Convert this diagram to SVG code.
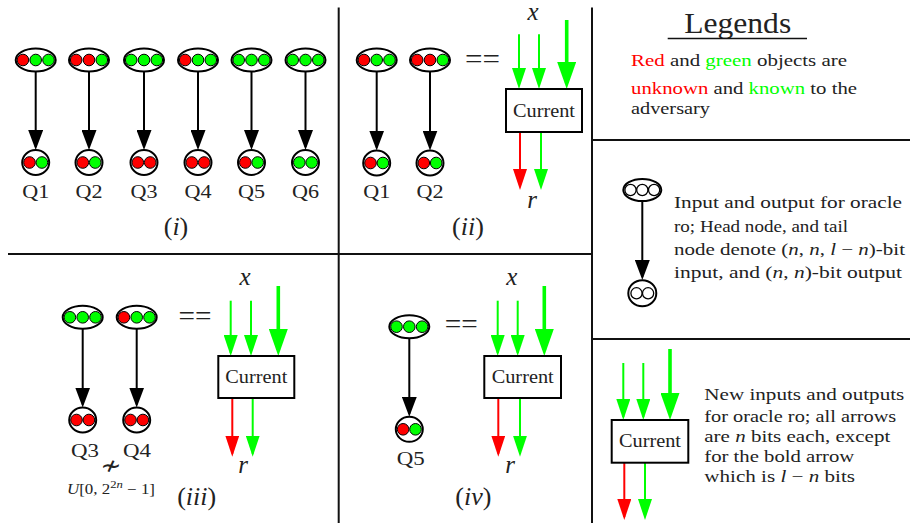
<svg xmlns="http://www.w3.org/2000/svg" width="910" height="523" viewBox="0 0 910 523" font-family="Liberation Serif, serif">
<defs>
<style>
.bg{fill:#fff}
.div{stroke:#111;stroke-width:2;fill:none}
.nd{fill:#fff;stroke:#000;stroke-width:2}
.r{fill:#ff0000;stroke:#000;stroke-width:1}
.g{fill:#00ff00;stroke:#000;stroke-width:1}
.w{fill:#fff;stroke:#000;stroke-width:1.3}
.ka{stroke:#000;stroke-width:2;fill:none;marker-end:url(#ah-k)}
.ga{stroke:#00ff00;stroke-width:2;fill:none;marker-end:url(#ah-g)}
.gb{stroke:#00ff00;stroke-width:3.6;fill:none;marker-end:url(#ah-gb)}
.ra{stroke:#ff0000;stroke-width:2;fill:none;marker-end:url(#ah-r)}
.box{fill:#fff;stroke:#000;stroke-width:2}
text{font-family:"Liberation Serif",serif;fill:#222}
.q{font-size:18px;text-anchor:middle}
.cur{font-size:18.5px;text-anchor:middle}
.lab{font-size:26px;text-anchor:middle}
.mi{font-style:italic}
.var{font-size:25px;font-style:italic;text-anchor:middle}
.eq{font-size:28px;text-anchor:middle}
.leg{font-size:17px}
.tr{fill:#ff0000}
.tg{fill:#00ff00}
</style>
<marker id="ah-k" markerUnits="userSpaceOnUse" markerWidth="20" markerHeight="15" viewBox="0 0 20 15" refX="17" refY="7.5" orient="auto"><path d="M0,0 L20,7.5 L0,15 z" fill="#000"/></marker>
<marker id="ah-g" markerUnits="userSpaceOnUse" markerWidth="21" markerHeight="14" viewBox="0 0 21 14" refX="18" refY="7" orient="auto"><path d="M0,0 L21,7 L0,14 z" fill="#00ff00"/></marker>
<marker id="ah-r" markerUnits="userSpaceOnUse" markerWidth="21" markerHeight="14" viewBox="0 0 21 14" refX="18" refY="7" orient="auto"><path d="M0,0 L21,7 L0,14 z" fill="#ff0000"/></marker>
<marker id="ah-gb" markerUnits="userSpaceOnUse" markerWidth="27" markerHeight="19" viewBox="0 0 27 19" refX="21" refY="9.5" orient="auto"><path d="M0,0 L27,9.5 L0,19 z" fill="#00ff00"/></marker>
</defs>
<rect class="bg" x="0" y="0" width="910" height="523"/>

<g id="dividers">
<line class="div" x1="338.7" y1="7.5" x2="338.7" y2="523"/>
<line class="div" x1="8" y1="254" x2="592" y2="254"/>
<line class="div" x1="592" y1="7.5" x2="592" y2="523"/>
<line class="div" x1="592" y1="140" x2="910" y2="140"/>
<line class="div" x1="592" y1="339" x2="910" y2="339"/>
</g>

<g id="connectors">
<line class="ka" x1="35.7" y1="71.5" x2="35.7" y2="147"/>
<line class="ka" x1="89" y1="71.5" x2="89" y2="147"/>
<line class="ka" x1="144" y1="71.5" x2="144" y2="147"/>
<line class="ka" x1="198" y1="71.5" x2="198" y2="147"/>
<line class="ka" x1="251.5" y1="71.5" x2="251.5" y2="147"/>
<line class="ka" x1="305.5" y1="71.5" x2="305.5" y2="147"/>
<line class="ka" x1="376.7" y1="71.5" x2="376.7" y2="147.5"/>
<line class="ka" x1="430" y1="71.5" x2="430" y2="147.5"/>
<line class="ga" x1="519" y1="34.3" x2="519" y2="86"/>
<line class="ga" x1="539" y1="34.3" x2="539" y2="86"/>
<line class="gb" x1="566.7" y1="20" x2="566.7" y2="83"/>
<line class="ra" x1="520" y1="132" x2="520" y2="187"/>
<line class="ga" x1="541" y1="132" x2="541" y2="187"/>
<line class="ka" x1="82.7" y1="328.8" x2="82.7" y2="404.5"/>
<line class="ka" x1="136.7" y1="328.8" x2="136.7" y2="404.5"/>
<line class="ga" x1="230.7" y1="300.7" x2="230.7" y2="353"/>
<line class="ga" x1="251" y1="300.7" x2="251" y2="353"/>
<line class="gb" x1="278.3" y1="286" x2="278.3" y2="350"/>
<line class="ra" x1="232.3" y1="398" x2="232.3" y2="453.7"/>
<line class="ga" x1="252.7" y1="398" x2="252.7" y2="453.7"/>
<line class="ka" x1="409.3" y1="338.2" x2="409.3" y2="413.8"/>
<line class="ga" x1="497.7" y1="300.7" x2="497.7" y2="353"/>
<line class="ga" x1="517.7" y1="300.7" x2="517.7" y2="353"/>
<line class="gb" x1="544.3" y1="286" x2="544.3" y2="350"/>
<line class="ra" x1="498.3" y1="398" x2="498.3" y2="453.7"/>
<line class="ga" x1="520" y1="398" x2="520" y2="453.7"/>
<line class="ka" x1="642.3" y1="201" x2="642.3" y2="277"/>
<line class="ga" x1="623.3" y1="363" x2="623.3" y2="417"/>
<line class="ga" x1="643.3" y1="363" x2="643.3" y2="417"/>
<line class="gb" x1="670" y1="349" x2="670" y2="414"/>
<line class="ra" x1="624.3" y1="463" x2="624.3" y2="517"/>
<line class="ga" x1="645" y1="463" x2="645" y2="517"/>
</g>

<g id="i-q1-head"><ellipse class="nd" cx="35.7" cy="60" rx="20" ry="11.5"/><circle class="r" cx="22.9" cy="60" r="5.8"/><circle class="g" cx="35.7" cy="60" r="5.8"/><circle class="g" cx="48.5" cy="60" r="5.8"/></g>
<g id="i-q1-tail"><ellipse class="nd" cx="35.7" cy="162.5" rx="13.5" ry="12.5"/><circle class="r" cx="29.5" cy="162.5" r="5.8"/><circle class="g" cx="41.9" cy="162.5" r="5.8"/></g>
<g id="i-q2-head"><ellipse class="nd" cx="89" cy="60" rx="20" ry="11.5"/><circle class="r" cx="76.2" cy="60" r="5.8"/><circle class="r" cx="89" cy="60" r="5.8"/><circle class="g" cx="101.8" cy="60" r="5.8"/></g>
<g id="i-q2-tail"><ellipse class="nd" cx="89" cy="162.5" rx="13.5" ry="12.5"/><circle class="r" cx="82.8" cy="162.5" r="5.8"/><circle class="g" cx="95.2" cy="162.5" r="5.8"/></g>
<g id="i-q3-head"><ellipse class="nd" cx="144" cy="60" rx="20" ry="11.5"/><circle class="g" cx="131.2" cy="60" r="5.8"/><circle class="g" cx="144" cy="60" r="5.8"/><circle class="g" cx="156.8" cy="60" r="5.8"/></g>
<g id="i-q3-tail"><ellipse class="nd" cx="144" cy="162.5" rx="13.5" ry="12.5"/><circle class="r" cx="137.8" cy="162.5" r="5.8"/><circle class="r" cx="150.2" cy="162.5" r="5.8"/></g>
<g id="i-q4-head"><ellipse class="nd" cx="198" cy="60" rx="20" ry="11.5"/><circle class="r" cx="185.2" cy="60" r="5.8"/><circle class="g" cx="198" cy="60" r="5.8"/><circle class="g" cx="210.8" cy="60" r="5.8"/></g>
<g id="i-q4-tail"><ellipse class="nd" cx="198" cy="162.5" rx="13.5" ry="12.5"/><circle class="r" cx="191.8" cy="162.5" r="5.8"/><circle class="r" cx="204.2" cy="162.5" r="5.8"/></g>
<g id="i-q5-head"><ellipse class="nd" cx="251.5" cy="60" rx="20" ry="11.5"/><circle class="g" cx="238.7" cy="60" r="5.8"/><circle class="g" cx="251.5" cy="60" r="5.8"/><circle class="g" cx="264.3" cy="60" r="5.8"/></g>
<g id="i-q5-tail"><ellipse class="nd" cx="251.5" cy="162.5" rx="13.5" ry="12.5"/><circle class="r" cx="245.3" cy="162.5" r="5.8"/><circle class="g" cx="257.7" cy="162.5" r="5.8"/></g>
<g id="i-q6-head"><ellipse class="nd" cx="305.5" cy="60" rx="20" ry="11.5"/><circle class="g" cx="292.7" cy="60" r="5.8"/><circle class="g" cx="305.5" cy="60" r="5.8"/><circle class="g" cx="318.3" cy="60" r="5.8"/></g>
<g id="i-q6-tail"><ellipse class="nd" cx="305.5" cy="162.5" rx="13.5" ry="12.5"/><circle class="g" cx="299.3" cy="162.5" r="5.8"/><circle class="g" cx="311.7" cy="162.5" r="5.8"/></g>
<g id="i-labels">
<text class="q" x="35.7" y="198" textLength="27" lengthAdjust="spacingAndGlyphs">Q1</text>
<text class="q" x="89" y="198" textLength="27" lengthAdjust="spacingAndGlyphs">Q2</text>
<text class="q" x="144" y="198" textLength="27" lengthAdjust="spacingAndGlyphs">Q3</text>
<text class="q" x="198" y="198" textLength="27" lengthAdjust="spacingAndGlyphs">Q4</text>
<text class="q" x="251.5" y="198" textLength="27" lengthAdjust="spacingAndGlyphs">Q5</text>
<text class="q" x="305.5" y="198" textLength="27" lengthAdjust="spacingAndGlyphs">Q6</text>
<text class="lab" x="176" y="235">(<tspan class="mi">i</tspan>)</text>
</g>

<g id="ii-q1-head"><ellipse class="nd" cx="376.7" cy="60" rx="20" ry="11.5"/><circle class="r" cx="363.9" cy="60" r="5.8"/><circle class="g" cx="376.7" cy="60" r="5.8"/><circle class="g" cx="389.5" cy="60" r="5.8"/></g>
<g id="ii-q1-tail"><ellipse class="nd" cx="376.7" cy="163" rx="13.5" ry="12.5"/><circle class="r" cx="370.5" cy="163" r="5.8"/><circle class="g" cx="382.9" cy="163" r="5.8"/></g>
<g id="ii-q2-head"><ellipse class="nd" cx="430" cy="60" rx="20" ry="11.5"/><circle class="r" cx="417.2" cy="60" r="5.8"/><circle class="r" cx="430" cy="60" r="5.8"/><circle class="g" cx="442.8" cy="60" r="5.8"/></g>
<g id="ii-q2-tail"><ellipse class="nd" cx="430" cy="163" rx="13.5" ry="12.5"/><circle class="r" cx="423.8" cy="163" r="5.8"/><circle class="g" cx="436.2" cy="163" r="5.8"/></g>
<g id="ii-current"><rect class="box" x="506" y="89" width="76" height="43"/><text class="cur" x="544" y="116.5" textLength="62" lengthAdjust="spacingAndGlyphs">Current</text></g>
<g id="ii-labels">
<text class="q" x="376.7" y="198" textLength="27" lengthAdjust="spacingAndGlyphs">Q1</text>
<text class="q" x="430" y="198" textLength="27" lengthAdjust="spacingAndGlyphs">Q2</text>
<text class="eq" x="482.5" y="68" textLength="35" lengthAdjust="spacingAndGlyphs">==</text>
<text class="var" x="533" y="20">x</text>
<text class="var" x="532" y="208">r</text>
<text class="lab" x="468" y="235">(<tspan class="mi">ii</tspan>)</text>
</g>

<g id="iii-q3-head"><ellipse class="nd" cx="82.7" cy="317.3" rx="20" ry="11.5"/><circle class="g" cx="69.9" cy="317.3" r="5.8"/><circle class="g" cx="82.7" cy="317.3" r="5.8"/><circle class="g" cx="95.5" cy="317.3" r="5.8"/></g>
<g id="iii-q3-tail"><ellipse class="nd" cx="82.7" cy="420" rx="13.5" ry="12.5"/><circle class="r" cx="76.5" cy="420" r="5.8"/><circle class="r" cx="88.9" cy="420" r="5.8"/></g>
<g id="iii-q4-head"><ellipse class="nd" cx="136.7" cy="317.3" rx="20" ry="11.5"/><circle class="r" cx="123.9" cy="317.3" r="5.8"/><circle class="g" cx="136.7" cy="317.3" r="5.8"/><circle class="g" cx="149.5" cy="317.3" r="5.8"/></g>
<g id="iii-q4-tail"><ellipse class="nd" cx="136.7" cy="420" rx="13.5" ry="12.5"/><circle class="r" cx="130.5" cy="420" r="5.8"/><circle class="r" cx="142.9" cy="420" r="5.8"/></g>
<g id="iii-current"><rect class="box" x="218.3" y="356" width="76" height="42"/><text class="cur" x="256.3" y="383.3" textLength="62" lengthAdjust="spacingAndGlyphs">Current</text></g>
<g id="iii-labels">
<text class="q" x="85" y="456.5" textLength="28" lengthAdjust="spacingAndGlyphs">Q3</text>
<text class="q" x="137" y="456.5" textLength="28" lengthAdjust="spacingAndGlyphs">Q4</text>
<text x="111" y="474" style="font-family:'DejaVu Sans',sans-serif;font-size:25px;text-anchor:middle">≁</text>
<text x="111" y="494" style="font-size:14px;text-anchor:middle" textLength="88" lengthAdjust="spacingAndGlyphs"><tspan class="mi">U</tspan>[0, 2<tspan dy="-6" style="font-size:10.5px">2<tspan class="mi">n</tspan></tspan><tspan dy="6"> − 1]</tspan></text>
<text class="eq" x="195" y="325" textLength="33" lengthAdjust="spacingAndGlyphs">==</text>
<text class="var" x="245" y="285">x</text>
<text class="var" x="243" y="473">r</text>
<text class="lab" x="196.7" y="505">(<tspan class="mi">iii</tspan>)</text>
</g>

<g id="iv-q5-head"><ellipse class="nd" cx="409.3" cy="326.7" rx="20" ry="11.5"/><circle class="g" cx="396.5" cy="326.7" r="5.8"/><circle class="g" cx="409.3" cy="326.7" r="5.8"/><circle class="g" cx="422.1" cy="326.7" r="5.8"/></g>
<g id="iv-q5-tail"><ellipse class="nd" cx="409.3" cy="429.3" rx="13.5" ry="12.5"/><circle class="r" cx="403.1" cy="429.3" r="5.8"/><circle class="g" cx="415.5" cy="429.3" r="5.8"/></g>
<g id="iv-current"><rect class="box" x="484.3" y="356" width="76.7" height="42"/><text class="cur" x="522.7" y="383.3" textLength="62" lengthAdjust="spacingAndGlyphs">Current</text></g>
<g id="iv-labels">
<text class="q" x="410.7" y="465" textLength="28" lengthAdjust="spacingAndGlyphs">Q5</text>
<text class="eq" x="461.3" y="333" textLength="33" lengthAdjust="spacingAndGlyphs">==</text>
<text class="var" x="511.7" y="285">x</text>
<text class="var" x="510" y="473">r</text>
<text class="lab" x="473.3" y="505">(<tspan class="mi">iv</tspan>)</text>
</g>

<g id="legend-title">
<text x="737.7" y="33" style="font-size:30px;text-anchor:middle" textLength="107" lengthAdjust="spacingAndGlyphs">Legends</text>
<line x1="667.7" y1="38.5" x2="807" y2="38.5" stroke="#111" stroke-width="1.5"/>
</g>
<g id="legend-colors">
<text class="leg" x="631" y="66" textLength="216" lengthAdjust="spacingAndGlyphs"><tspan class="tr">Red</tspan> and <tspan class="tg">green</tspan> objects are</text>
<text class="leg" x="631" y="93.5" textLength="226" lengthAdjust="spacingAndGlyphs"><tspan class="tr">unknown</tspan> and <tspan class="tg">known</tspan> to the</text>
<text class="leg" x="631" y="114.3" textLength="79" lengthAdjust="spacingAndGlyphs">adversary</text>
</g>

<g id="legend-head"><ellipse class="nd" cx="642.3" cy="190" rx="19" ry="11"/><circle class="w" cx="630.5" cy="190" r="5.6"/><circle class="w" cx="642.3" cy="190" r="5.6"/><circle class="w" cx="654.1" cy="190" r="5.6"/></g>
<g id="legend-tail"><ellipse class="nd" cx="642.3" cy="293.3" rx="14" ry="13"/><circle class="w" cx="636.5" cy="293.3" r="5.6"/><circle class="w" cx="648.1" cy="293.3" r="5.6"/></g>
<g id="legend-oracle-text">
<text class="leg" x="674" y="208.3" textLength="228" lengthAdjust="spacingAndGlyphs">Input and output for oracle</text>
<text class="leg" x="674" y="232.3" textLength="174" lengthAdjust="spacingAndGlyphs">ro; Head node, and tail</text>
<text class="leg" x="674" y="255" textLength="231" lengthAdjust="spacingAndGlyphs">node denote (<tspan class="mi">n</tspan>, <tspan class="mi">n</tspan>, <tspan class="mi">l</tspan> − <tspan class="mi">n</tspan>)-bit</text>
<text class="leg" x="674" y="278.3" textLength="228" lengthAdjust="spacingAndGlyphs">input, and (<tspan class="mi">n</tspan>, <tspan class="mi">n</tspan>)-bit output</text>
</g>

<g id="legend-current"><rect class="box" x="611.7" y="420" width="76.6" height="42.7"/><text class="cur" x="650" y="447.3" textLength="62" lengthAdjust="spacingAndGlyphs">Current</text></g>
<g id="legend-arrows-text">
<text class="leg" x="704.3" y="400" textLength="200" lengthAdjust="spacingAndGlyphs">New inputs and outputs</text>
<text class="leg" x="704.3" y="421.7" textLength="192" lengthAdjust="spacingAndGlyphs">for oracle ro; all arrows</text>
<text class="leg" x="704.3" y="441.7" textLength="186" lengthAdjust="spacingAndGlyphs">are <tspan class="mi">n</tspan> bits each, except</text>
<text class="leg" x="704.3" y="461.7" textLength="150" lengthAdjust="spacingAndGlyphs">for the bold arrow</text>
<text class="leg" x="704.3" y="481.7" textLength="150.7" lengthAdjust="spacingAndGlyphs">which is <tspan class="mi">l</tspan> − <tspan class="mi">n</tspan> bits</text>
</g>
</svg>
